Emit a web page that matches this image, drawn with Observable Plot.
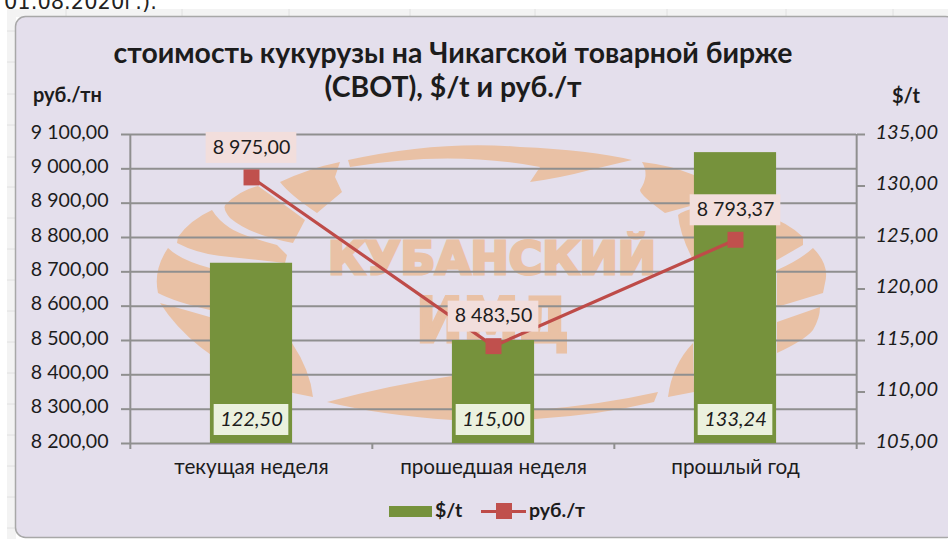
<!DOCTYPE html>
<html lang="ru">
<head>
<meta charset="utf-8">
<script src="https://cdn.jsdelivr.net/npm/d3@7"></script>
<script src="https://cdn.jsdelivr.net/npm/@observablehq/plot@0.6"></script>
<style>
html,body{margin:0;padding:0;background:#fff;overflow:hidden}
#page{position:relative;width:948px;height:539px;overflow:hidden;font-family:Lato,"Open Sans",sans-serif;color:#1c1c1c}
#bg,#chart,#chart svg{position:absolute;left:0;top:0}
#chart{width:948px;height:539px}
#chart svg{max-width:none}
.t{position:absolute;white-space:nowrap;line-height:1}
.b{font-weight:700}
#legend i{position:absolute;display:block}
</style>
</head>
<body>
<div id="page">
<svg id="bg" width="948" height="539" xmlns="http://www.w3.org/2000/svg">
  <rect x="7" y="9" width="941" height="8" fill="#f3f3f3"/>
  <rect x="7" y="9" width="9" height="530" fill="#f3f3f3"/>
  <g stroke="#e0e0e0" stroke-width="1">
    <path d="M66 9V16M182 9V16M289 9V16M410 9V16M535 9V16M667 9V16M786 9V16M893 9V16"/>
    <path d="M7 31H15M7 62H15M7 94H15M7 125H15M7 157H15M7 187H15M7 218H15M7 249H15M7 280H15M7 311H15M7 342H15M7 373H15M7 404H15M7 435H15M7 466H15M7 497H15M7 528H15"/>
  </g>
  <rect x="15.5" y="16.5" width="940" height="521" rx="10" fill="#e4dfec" stroke="#a8a8a8" stroke-width="1.5"/>
  <g fill="#e9c1a5">
    <path d="M348 160Q440 140 520 147Q590 150 632 160L590 170Q560 178 530 182L540 167Q450 150 350 167Z"/>
    <path d="M280 182Q310 168 340 162L335 177L342 192L317 213Q290 195 280 182Z"/>
    <path d="M225 205Q240 190 258 186Q285 205 305 220L293 243Q250 235 230 218Q223 210 225 205Z"/>
    <path d="M212 210Q190 220 178 237L177 243Q200 255 230 257L285 263L287 255L277 245Q240 235 230 228Q218 220 212 210Z"/>
    <path d="M168 248Q180 260 210 268L210 310Q175 302 158 293Q153 270 168 248Z"/>
    <path d="M160 303Q230 322 292 343Q310 370 313 397L293 393Q200 365 160 303Z"/>
    <path d="M327 402Q390 385 452 376L500 400L535 410Q600 405 658 392L654 402Q600 415 535 419Q490 422 452 420Q380 415 327 402Z"/>
    <path d="M642 162Q670 165 694 175L694 205L665 213Q640 195 640 190Q650 175 642 162Z"/>
    <path d="M678 215Q690 205 730 205Q780 215 803 237L803 245L777 260L693 260Q680 235 678 215Z"/>
    <path d="M813 248Q830 265 825 283L823 293L777 307L777 270Q800 260 813 248Z"/>
    <path d="M820 307L777 322L777 353Q805 340 813 330Q820 318 820 307Z"/>
    <path d="M693 343Q672 365 668 397L694 392Z"/>
    <g stroke="#e9c1a5" stroke-width="3">
    <text x="328" y="274" font-family="DejaVu Sans" font-weight="700" font-size="45" textLength="328" lengthAdjust="spacingAndGlyphs">КУБАНСКИЙ</text>
    <text x="416" y="342" font-family="DejaVu Sans" font-weight="700" font-size="63" textLength="153" lengthAdjust="spacingAndGlyphs">ИМД</text>
    </g>
  </g>
</svg>
<div id="chart"></div>
<div class="t" style="left:4px;top:-8px;font:21px 'DejaVu Sans';line-height:1;color:#222">01.08.2020г.).</div>
<div class="t b" style="left:0;width:906px;text-align:center;top:38px;font-size:28.4px">стоимость кукурузы на Чикагской товарной бирже</div>
<div class="t b" style="left:0;width:906px;text-align:center;top:72px;font-size:28.4px">(CBOT), $/t и руб./т</div>
<div class="t b" style="left:33px;top:84px;font-size:20px">руб./тн</div>
<div class="t b" style="left:892px;top:85px;font-size:20px">$/t</div>
<div id="legend">
  <i style="left:389px;top:506px;width:43px;height:11px;background:#76923c"></i>
  <div class="t b" style="left:435px;top:500px;font-size:19.5px">$/t</div>
  <i style="left:481px;top:510px;width:45px;height:3px;background:#be4b48"></i>
  <i style="left:496px;top:503px;width:16px;height:16px;background:#c0504d"></i>
  <div class="t b" style="left:529px;top:500px;font-size:19.5px">руб./т</div>
</div>
</div>
<script>
const categories = ["текущая неделя", "прошедшая неделя", "прошлый год"];
const usdPerTon = [122.50, 115.00, 133.24];
const rubPerTon = [8975.00, 8483.50, 8793.37];
const rubTicks = [8200, 8300, 8400, 8500, 8600, 8700, 8800, 8900, 9000, 9100];
const usdTicks = [105, 110, 115, 120, 125, 130, 135];

const rubMin = 8200, rubMax = 9100, usdMin = 105, usdMax = 135;
const usdToRub = u => rubMin + (u - usdMin) / (usdMax - usdMin) * (rubMax - rubMin);
const rubToUsd = r => usdMin + (r - rubMin) / (rubMax - rubMin) * (usdMax - usdMin);
const fmt = d3.formatLocale({decimal: ",", thousands: " ", grouping: [3], currency: ["", ""]}).format(",.2f");

const rows = categories.map((c, i) => ({c, usd: usdPerTon[i], rub: rubPerTon[i], usdRub: usdToRub(usdPerTon[i])}));

const mTop = 134, mBottom = 96, mLeft = 129, mRight = 92, H = 539, W = 948;
const perPx = (rubMax - rubMin) / (H - mTop - mBottom);
const band = (W - mLeft - mRight) / categories.length;
const ink = "#1c1c1c", gridC = "#8f8f8f", font = "Lato, 'Open Sans', sans-serif";
const inset = w => (band - w) / 2;

const plot = Plot.plot({
  width: W, height: H,
  marginTop: mTop, marginBottom: mBottom, marginLeft: mLeft, marginRight: mRight,
  style: {background: "transparent", fontFamily: font},
  x: {domain: categories, padding: 0, label: null},
  y: {domain: [rubMin, rubMax], label: null},
  marks: [
    Plot.ruleY(rubTicks, {stroke: gridC, strokeWidth: 2}),
    Plot.ruleX(categories, {x: d => d, dx: -band / 2, y1: rubMin, y2: rubMin - 6 * perPx, stroke: gridC, strokeWidth: 2, filter: (d, i) => i > 0}),
    Plot.ruleX(categories.slice(0, 1), {x: d => d, dx: -band / 2, y1: rubMin - 6 * perPx, y2: rubMax, stroke: gridC, strokeWidth: 2}),
    Plot.ruleX(categories.slice(-1), {x: d => d, dx: band / 2, y1: rubMin - 6 * perPx, y2: rubMax, stroke: gridC, strokeWidth: 2}),
    Plot.barY(rows, {x: "c", y1: rubMin, y2: "usdRub", fill: "#76923c", insetLeft: inset(82.5), insetRight: inset(82.5)}),
    Plot.axisY(rubTicks, {anchor: "left", tickSize: 8, stroke: gridC, strokeWidth: 2, tickFormat: () => "", label: null}),
    Plot.axisY(rubTicks, {anchor: "left", tickSize: 0, tickPadding: 21, dy: -2, color: ink, fontSize: 19.6, tickFormat: fmt, label: null}),
    Plot.axisY(usdTicks.map(usdToRub), {anchor: "right", tickSize: 8, stroke: gridC, strokeWidth: 2, tickFormat: () => "", label: null}),
    Plot.axisY(usdTicks.map(usdToRub), {anchor: "right", tickSize: 0, tickPadding: 19, dy: -2, color: ink, fontSize: 20, fontStyle: "italic", tickFormat: d => fmt(rubToUsd(d)), label: null}),
    Plot.axisX({tickSize: 0, tickPadding: 16, fontSize: 20.7, color: ink, label: null}),
    Plot.line(rows, {x: "c", y: "rub", stroke: "#be4b48", strokeWidth: 3.2}),
    Plot.dot(rows, {x: "c", y: "rub", symbol: "square", r: 9, fill: "#c0504d"}),
    Plot.barY(rows, {x: "c", y1: d => d.rub + 14 * perPx, y2: d => d.rub + 45 * perPx, fill: "#f2dedc", insetLeft: inset(91), insetRight: inset(91)}),
    Plot.text(rows, {x: "c", y: "rub", dy: -30, text: d => fmt(d.rub), fontSize: 19.6, fill: ink}),
    Plot.barY(rows, {x: "c", y1: rubMin + 8 * perPx, y2: rubMin + 39 * perPx, fill: "#ebf1de", insetLeft: inset(75), insetRight: inset(75)}),
    Plot.text(rows, {x: "c", y: rubMin + 23.5 * perPx, text: d => fmt(d.usd), fontSize: 20, fontStyle: "italic", fill: ink})
  ]
});
document.getElementById("chart").appendChild(plot);
</script>
</body>
</html>
